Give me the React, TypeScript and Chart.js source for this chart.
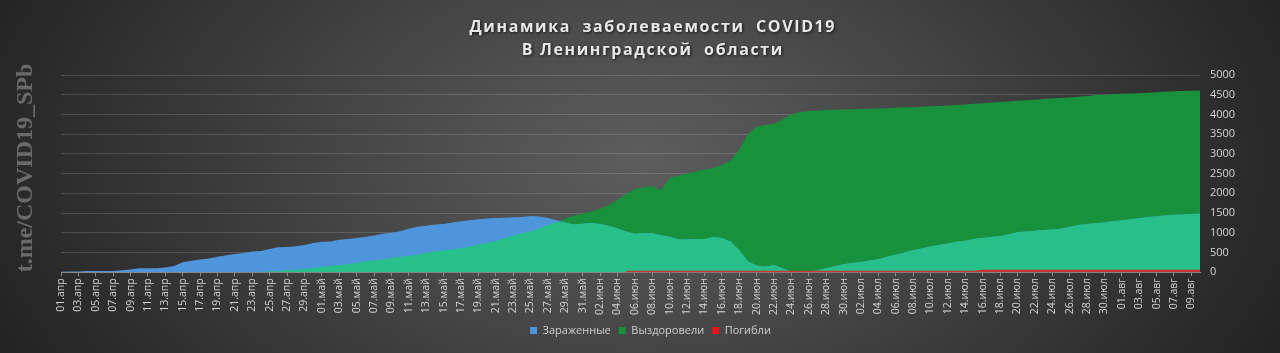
import React, { useEffect, useRef } from 'react';
import { Chart, registerables } from 'chart.js';

Chart.register(...registerables);

const TITLE_LINES = ['Динамика  заболеваемости  COVID19', 'В Ленинградской  области'];
const WATERMARK = 't.me/COVID19_SPb';

const MONTHS: [string, number][] = [
  ['апр', 30],
  ['май', 31],
  ['июн', 30],
  ['июл', 31],
  ['авг', 10],
];

const categories: string[] = [];
MONTHS.forEach(([m, n]) => {
  for (let d = 1; d <= n; d++) categories.push(String(d).padStart(2, '0') + '.' + m);
});

const yTicks = [0, 500, 1000, 1500, 2000, 2500, 3000, 3500, 4000, 4500, 5000];

// Зараженные (active cases)
const infected = [
  10, 15, 20, 30, 30, 30, 30, 50, 70, 100,
  100, 100, 120, 160, 250, 290, 320, 350, 390, 430,
  460, 490, 525, 540, 590, 630, 640, 660, 690, 740,
  775, 780, 820, 845, 870, 890, 930, 975, 1000, 1040,
  1100, 1150, 1180, 1210, 1220, 1260, 1290, 1320, 1345, 1360,
  1372, 1380, 1395, 1400, 1425, 1410, 1375, 1320, 1260, 1210,
  1230, 1245, 1220, 1180, 1110, 1030, 975, 985, 990, 940,
  900, 835, 830, 840, 840, 890, 870, 780, 560, 280,
  170, 140, 185, 100, 20, 5, 25, 45, 100, 150,
  200, 235, 260, 300, 330, 390, 440, 500, 560, 600,
  650, 690, 730, 770, 800, 840, 870, 890, 910, 960,
  1010, 1030, 1050, 1070, 1085, 1100, 1150, 1200, 1220, 1240,
  1260, 1290, 1315, 1345, 1370, 1400, 1420, 1440, 1455, 1460,
  1475, 1485,
];

// Выздоровели (recovered)
const recovered = [
  0, 0, 0, 0, 0, 0, 0, 0, 0, 0,
  0, 0, 0, 0, 0, 0, 0, 0, 0, 0,
  3, 5, 8, 12, 25, 40, 55, 60, 80, 105,
  140, 155, 180, 200, 235, 275, 295, 320, 360, 395,
  420, 445, 490, 530, 550, 575, 605, 650, 700, 750,
  790, 860, 930, 990, 1030, 1110, 1200, 1280, 1360, 1430,
  1490, 1540, 1600, 1700, 1830, 1980, 2110, 2150, 2180, 2080,
  2390, 2450, 2500, 2550, 2600, 2640, 2720, 2830, 3100, 3500,
  3680, 3730, 3760, 3880, 4000, 4060, 4090, 4100, 4110, 4120,
  4125, 4130, 4135, 4145, 4150, 4160, 4170, 4180, 4185, 4195,
  4205, 4215, 4225, 4240, 4255, 4270, 4285, 4300, 4315, 4330,
  4345, 4360, 4375, 4390, 4405, 4415, 4430, 4450, 4470, 4490,
  4500, 4515, 4525, 4530, 4535, 4550, 4560, 4575, 4585, 4595,
  4600, 4605,
];

// Погибли (deaths)
const deaths: (number | null)[] = [
  null, null, null, null, null, null, null, null, null, null,
  null, null, null, null, null, null, null, null, null, null,
  null, null, null, null, null, null, null, null, null, null,
  null, null, null, null, null, null, null, null, null, null,
  null, null, null, null, null, null, null, null, null, null,
  null, null, null, null, null, null, null, null, null, null,
  null, null, null, null, null, 10, 10, 10, 10, 10,
  10, 10, 10, 10, 10, 10, 10, 10, 10, 10,
  10, 10, 10, 10, 10, 10, 10, 10, 10, 10,
  10, 10, 10, 10, 10, 10, 10, 10, 10, 10,
  10, 10, 10, 10, 10, 10, 35, 35, 35, 35,
  35, 35, 35, 35, 35, 35, 35, 35, 35, 35,
  35, 35, 35, 35, 35, 35, 35, 35, 35, 35,
  35, 35,
];

const BLUE = '#4f95dc';
const GREEN = '#17913c';
const TEAL = '#27c08b';
const RED = '#c8352e';
const RED_LEGEND = '#e0141a';

export default function App() {
  const ref = useRef<HTMLCanvasElement | null>(null);

  useEffect(() => {
    if (!ref.current) return;
    const overlap = infected.map((v, i) => Math.min(v, recovered[i]));

    const decor = {
      id: 'decor',
      afterLayout(chart: any) {
        const lg = chart.legend;
        if (lg) {
          lg.left -= 20;
          lg.right -= 20;
        }
      },
      afterDraw(chart: any) {
        const ctx = chart.ctx as CanvasRenderingContext2D;
        ctx.save();
        ctx.font = 'bold 16px "Open Sans"';
        ctx.textAlign = 'left';
        ctx.textBaseline = 'alphabetic';
        (ctx as any).letterSpacing = '0px';
        const w0 = ctx.measureText(TITLE_LINES[0]).width;
        const n0 = TITLE_LINES[0].length;
        const spacing = Math.max(0, (365 - w0) / (n0 - 1));
        (ctx as any).letterSpacing = spacing + 'px';
        ctx.fillStyle = '#e8e8e8';
        ctx.shadowColor = 'rgba(0,0,0,0.7)';
        ctx.shadowBlur = 3;
        ctx.shadowOffsetX = 1;
        ctx.shadowOffsetY = 1;
        const cx = 652;
        const baselines = [32, 55];
        TITLE_LINES.forEach((t, k) => {
          const w = ctx.measureText(t).width - spacing;
          ctx.fillText(t, cx - w / 2, baselines[k]);
        });
        ctx.restore();

        ctx.save();
        ctx.font = 'bold 24px "Liberation Serif"';
        ctx.fillStyle = '#6a6a6a';
        ctx.textAlign = 'center';
        ctx.textBaseline = 'middle';
        ctx.translate(26, 168);
        ctx.rotate(-Math.PI / 2);
        ctx.fillText(WATERMARK, 0, 0);
        ctx.restore();
      },
    };

    const chart = new Chart(ref.current, {
      type: 'line',
      data: {
        labels: categories,
        datasets: [
          {
            label: 'Зараженные',
            data: infected,
            backgroundColor: BLUE,
            borderColor: 'transparent',
            borderWidth: 0,
            fill: 'origin',
            pointRadius: 0,
            tension: 0,
            order: 3,
          },
          {
            label: 'Выздоровели',
            data: recovered,
            backgroundColor: GREEN,
            borderColor: 'transparent',
            borderWidth: 0,
            fill: 'origin',
            pointRadius: 0,
            tension: 0,
            order: 4,
          },
          {
            label: 'Погибли',
            data: deaths,
            backgroundColor: RED,
            borderColor: RED,
            borderWidth: 2,
            fill: 'origin',
            pointRadius: 0,
            tension: 0,
            order: 1,
          },
          {
            label: 'overlap',
            data: overlap,
            backgroundColor: TEAL,
            borderColor: 'transparent',
            borderWidth: 0,
            fill: 'origin',
            pointRadius: 0,
            tension: 0,
            order: 2,
          },
        ],
      },
      options: {
        responsive: false,
        animation: false,
        layout: { padding: { left: 61, top: 75, right: 0, bottom: 7 } },
        plugins: {
          title: { display: false },
          tooltip: { enabled: false },
          legend: {
            position: 'bottom',
            labels: {
              color: '#cfcfcf',
              font: { family: '"Open Sans"', size: 11 },
              boxWidth: 7,
              boxHeight: 7,
              padding: 8,
              filter: (item: any) => item.datasetIndex < 3,
              sort: (a: any, b: any) => a.datasetIndex - b.datasetIndex,
              generateLabels: (ch: any) => {
                const items = Chart.defaults.plugins.legend.labels.generateLabels(ch);
                items.forEach((it: any) => {
                  if (it.datasetIndex === 2) {
                    it.fillStyle = RED_LEGEND;
                    it.strokeStyle = RED_LEGEND;
                    it.lineWidth = 0;
                  }
                });
                return items;
              },
            },
          },
        },
        scales: {
          x: {
            type: 'category',
            offset: false,
            grid: {
              display: true,
              drawOnChartArea: false,
              drawTicks: true,
              tickLength: 4,
              color: '#8a8a8a',
            },
            border: { display: true, color: '#8a8a8a', width: 1 },
            ticks: {
              autoSkip: false,
              maxRotation: 90,
              minRotation: 90,
              padding: 2,
              color: '#d4d4d4',
              font: { family: '"Open Sans"', size: 10.5 },
              callback: (_v: any, idx: number) => (idx % 2 === 0 ? categories[idx] : null),
            },
          },
          y: {
            position: 'right',
            min: 0,
            max: 5000,
            afterFit: (scale: any) => {
              scale.width = 80;
            },
            afterBuildTicks: (scale: any) => {
              scale.ticks = yTicks.map((v) => ({ value: v }));
            },
            grid: {
              color: 'rgba(255,255,255,0.15)',
              drawTicks: false,
            },
            border: { display: false },
            ticks: {
              padding: 10,
              color: '#d4d4d4',
              font: { family: '"Open Sans"', size: 11 },
              callback: (v: any) => String(v),
            },
          },
        },
      },
      plugins: [decor],
    });
    return () => chart.destroy();
  }, []);

  return (
    <div
      style={{
        position: 'absolute',
        left: 0,
        top: 0,
        width: 1280,
        height: 353,
        background:
          'radial-gradient(ellipse 700px 430px at 640px 160px, #5d5d5d 0%, #4a4a4a 35%, #2c2c2c 85%, #232323 100%)',
      }}
    >
      <canvas ref={ref} width={1280} height={353} style={{ display: 'block' }} />
    </div>
  );
}
